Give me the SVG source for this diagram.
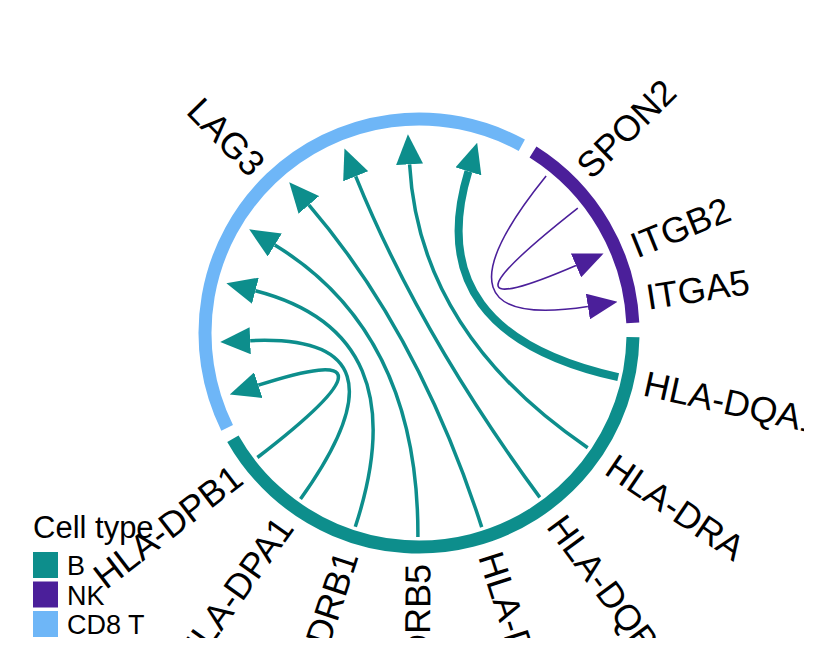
<svg xmlns="http://www.w3.org/2000/svg" width="840" height="672" viewBox="0 0 840 672">
<style>
.lbl{font-family:"Liberation Sans",Arial,sans-serif;font-size:36px;fill:#000}
.leg{font-family:"Liberation Sans",Arial,sans-serif;font-size:27px;fill:#000}
.legt{font-family:"Liberation Sans",Arial,sans-serif;font-size:31px;fill:#000}
.arc{fill:none;stroke-width:13}
.lt{fill:none;stroke:#0d8e8c;stroke-width:3.5}
.lp{fill:none;stroke:#4b1f9a;stroke-width:1.6}
</style>
<defs>
<clipPath id="clip"><rect x="0" y="0" width="804" height="638"/></clipPath>
<marker id="at" markerUnits="userSpaceOnUse" markerWidth="30" markerHeight="27" refX="0" refY="13.5" orient="auto" viewBox="0 0 30 27"><path d="M0,0 L30,13.5 L0,27 z" fill="#0d8e8c"/></marker>
<marker id="ap" markerUnits="userSpaceOnUse" markerWidth="30" markerHeight="26" refX="0" refY="13" orient="auto" viewBox="0 0 30 26"><path d="M0,0 L30,13 L0,26 z" fill="#4b1f9a"/></marker>
</defs>
<rect width="840" height="672" fill="#fff"/>
<g clip-path="url(#clip)">
<g id="sector-CD8T"><path class="arc" stroke="#6eb6f7" d="M227.15,427.8 A214,214 0 0 1 521.8,145.3"/></g>
<g id="sector-NK"><path class="arc" stroke="#4b1f9a" d="M533,151.9 A214,214 0 0 1 632.8,322.9"/></g>
<g id="sector-B"><path class="arc" stroke="#0d8e8c" d="M632.96,337.1 A214,214 0 0 1 232.9,438.7"/></g>
<g id="links">
<path class="lt" marker-end="url(#at)" d="M257.4,457.5 Q419,333 258.3,385.2"/>
<path class="lt" marker-end="url(#at)" d="M300.5,499.1 Q419,333 250.2,340.7"/>
<path class="lt" marker-end="url(#at)" d="M355.3,526.8 Q419,333 255.4,290.7"/>
<path class="lt" marker-end="url(#at)" d="M417.9,537 Q419,333 274.8,245"/>
<path class="lt" marker-end="url(#at)" d="M481.7,527.1 Q419,333 308.8,204.9"/>
<path class="lt" marker-end="url(#at)" d="M539.8,497.4 Q419,333 355.7,176.3"/>
<path class="lt" marker-end="url(#at)" d="M587.7,447.7 Q419,333 409.6,164.3"/>
<path class="lt" style="stroke-width:8" marker-end="url(#at)" d="M618.2,377.2 Q419,333 468.4,171.4"/>
<path class="lp" marker-end="url(#ap)" d="M546.1,176 Q419,333 587.9,306.5"/>
<path class="lp" marker-end="url(#ap)" d="M577.8,208.1 Q419,333 576,265.4"/>
</g>
<g id="label-LAG3"><text class="lbl" transform="translate(419,333) rotate(45.5)" x="-229" y="0" dy="0.35em" text-anchor="end">LAG3</text></g>
<g id="label-SPON2"><text class="lbl" transform="translate(419,333) rotate(-44.6)" x="230" y="0" dy="0.35em">SPON2</text></g>
<g id="label-ITGB2"><text class="lbl" transform="translate(419,333) rotate(-22)" x="230" y="0" dy="0.35em">ITGB2</text></g>
<g id="label-ITGA5"><text class="lbl" transform="translate(419,333) rotate(-8.9)" x="230" y="0" dy="0.35em">ITGA5</text></g>
<g id="label-HLA-DQA1"><text class="lbl" transform="translate(419,333) rotate(12.5)" x="231" y="0" dy="0.35em">HLA-DQA1</text></g>
<g id="label-HLA-DRA"><text class="lbl" transform="translate(419,333) rotate(34.2)" x="231" y="0" dy="0.35em">HLA-DRA</text></g>
<g id="label-HLA-DQB1"><text class="lbl" transform="translate(419,333) rotate(53.7)" x="231" y="0" dy="0.35em">HLA-DQB1</text></g>
<g id="label-HLA-DQA2"><text class="lbl" transform="translate(419,333) rotate(72.1)" x="231" y="0" dy="0.35em">HLA-DQA2</text></g>
<g id="label-HLA-DRB5"><text class="lbl" transform="translate(419,333) rotate(-89.7)" x="-231" y="0" dy="0.35em" text-anchor="end">HLA-DRB5</text></g>
<g id="label-HLA-DRB1"><text class="lbl" transform="translate(419,333) rotate(-71.8)" x="-231" y="0" dy="0.35em" text-anchor="end">HLA-DRB1</text></g>
<g id="label-HLA-DPA1"><text class="lbl" transform="translate(419,333) rotate(-54.5)" x="-231" y="0" dy="0.35em" text-anchor="end">HLA-DPA1</text></g>
<g id="label-HLA-DPB1"><text class="lbl" transform="translate(419,333) rotate(-37.6)" x="-229" y="0" dy="0.35em" text-anchor="end">HLA-DPB1</text></g>
<g id="legend">
<text class="legt" x="33" y="538">Cell type</text>
<rect x="33" y="552" width="25" height="26" fill="#0d8e8c"/>
<rect x="33" y="581.5" width="25" height="26" fill="#4b1f9a"/>
<rect x="33" y="611" width="25" height="26" fill="#6eb6f7"/>
<text class="leg" x="67" y="575">B</text>
<text class="leg" x="67" y="604.5">NK</text>
<text class="leg" x="67" y="634">CD8 T</text>
</g>
</g>
</svg>
